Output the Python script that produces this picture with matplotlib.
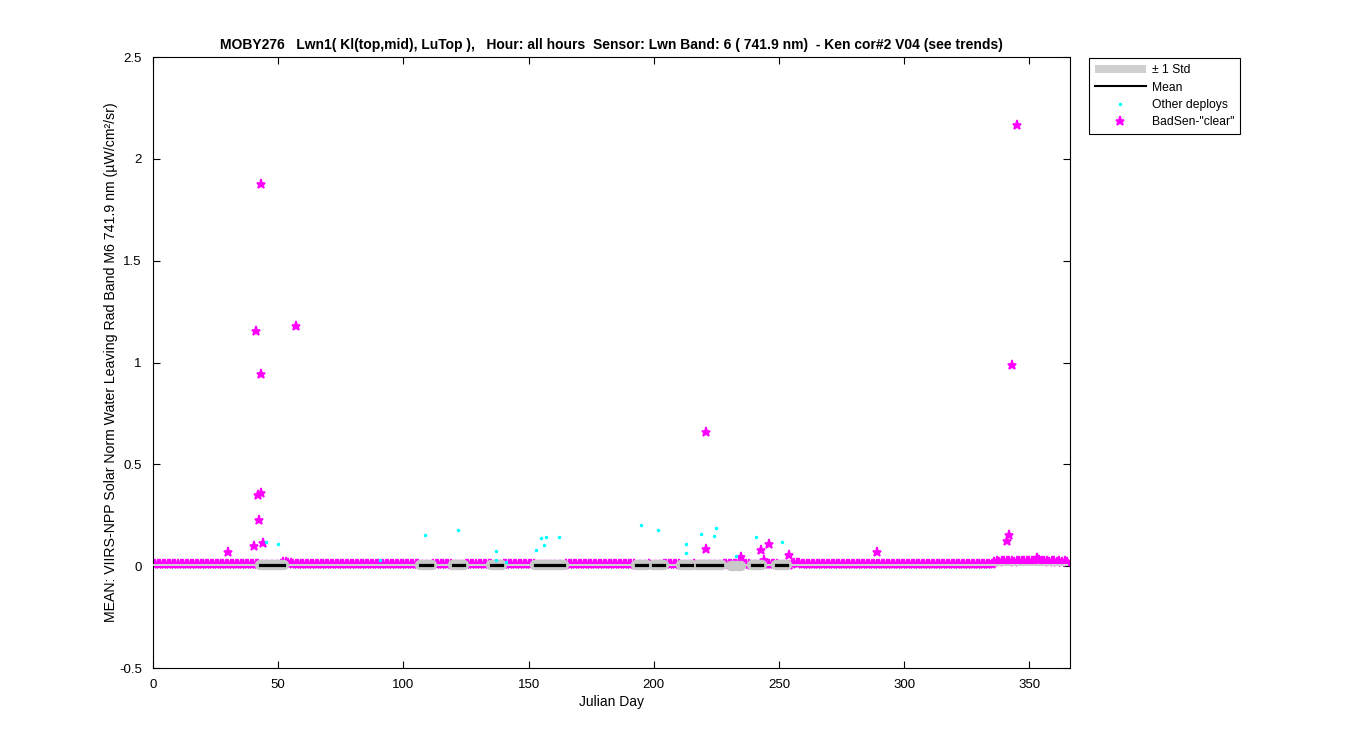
import numpy as np
import matplotlib.pyplot as plt
from matplotlib.patches import Patch
from matplotlib.lines import Line2D
from matplotlib.ticker import FormatStrFormatter

plt.rcParams['font.family'] = ['Liberation Sans', 'DejaVu Sans']

# ---- data ----
# daily baseline of BadSen-"clear" points (units of 1e-3 uW/cm^2/sr)
days = np.arange(1, 366)
baseline_milli = [
    9, 10, 9, 11, 9, 10, 12, 9, 10, 9, 11, 10, 9, 10, 9, 11, 9, 10, 9, 10,
    10, 9, 11, 10, 9, 10, 12, 13, 9, 10, 9, 10, 11, 9, 10, 9, 11, 10, 9, 10,
    10, 9, 8, 8, 8, 8, 8, 8, 8, 8, 9, 22, 20, 18, 16, 12, 11, 10, 9, 11,
    10, 9, 10, 11, 9, 10, 9, 11, 10, 9, 10, 12, 9, 10, 9, 10, 11, 9, 10, 9,
    11, 10, 9, 10, 12, 9, 10, 9, 11, 10, 9, 10, 9, 11, 10, 9, 10, 9, 11, 10,
    9, 10, 12, 9, 10, 9, 8, 8, 8, 8, 8, 9, 10, 9, 11, 10, 9, 10, 9, 8,
    8, 8, 8, 8, 9, 10, 11, 9, 10, 9, 12, 10, 9, 10, 9, 8, 8, 8, 8, 10,
    9, 10, 11, 9, 10, 9, 11, 10, 9, 10, 9, 11, 8, 8, 8, 8, 8, 8, 8, 8,
    8, 8, 8, 8, 9, 10, 11, 9, 10, 9, 11, 10, 9, 10, 9, 11, 10, 9, 10, 9,
    11, 10, 9, 10, 12, 9, 10, 9, 11, 10, 9, 10, 8, 8, 8, 8, 8, 9, 8, 8,
    8, 8, 8, 10, 9, 10, 11, 9, 10, 9, 8, 8, 8, 8, 8, 9, 8, 8, 8, 8,
    8, 8, 8, 8, 8, 8, 8, 9, 10, 9, 11, 10, 9, 10, 9, 11, 10, 9, 8, 8,
    8, 8, 8, 9, 10, 9, 12, 10, 9, 8, 8, 8, 8, 8, 9, 18, 16, 14, 11, 10,
    9, 10, 11, 9, 10, 9, 11, 10, 9, 10, 12, 9, 10, 9, 11, 10, 9, 10, 9, 11,
    10, 9, 10, 12, 9, 10, 9, 11, 10, 9, 10, 9, 11, 10, 9, 10, 9, 11, 10, 9,
    10, 12, 9, 10, 9, 11, 10, 9, 10, 9, 11, 10, 9, 10, 9, 11, 10, 9, 12, 10,
    9, 10, 9, 11, 10, 9, 10, 9, 11, 10, 9, 12, 10, 9, 10, 22, 24, 23, 25, 24,
    25, 26, 24, 23, 25, 27, 26, 25, 24, 26, 25, 24, 36, 30, 26, 25, 24, 23, 24, 25,
    22, 24, 23, 24, 22,
]

# outlying BadSen-"clear" points
bad_day = [30, 40.5, 41, 42, 42.5, 43, 43, 43, 44, 57,
           221, 221, 235, 243, 244, 246, 254, 289, 341, 342, 343, 345, 353]
bad_val = [0.069, 0.098, 1.154, 0.349, 0.226, 0.357, 1.875, 0.943, 0.113, 1.178,
           0.658, 0.083, 0.045, 0.080, 0.030, 0.110, 0.054, 0.069, 0.123, 0.152, 0.990, 2.165, 0.040]

# other deployments
other_day = [45, 50, 90.7, 108.7, 121.8, 137, 137, 141, 153, 155, 156, 157, 162,
             195, 201.7, 213, 213, 219, 224, 225, 233, 241, 251]
other_val = [0.118, 0.108, 0.030, 0.152, 0.180, 0.074, 0.030, 0.020, 0.079, 0.137, 0.103, 0.142, 0.142,
             0.200, 0.180, 0.108, 0.064, 0.157, 0.147, 0.187, 0.049, 0.142, 0.118]

# mean +/- std for each deployment window
seg_start = [42.7, 106.6, 119.8, 135.0, 152.6, 193.0, 199.7, 210.9, 217.3, 231.0, 239.2, 248.8]
seg_end = [52.3, 111.4, 124.2, 139.4, 164.0, 197.3, 204.0, 215.3, 227.2, 235.0, 243.2, 253.2]
seg_mean = [0.005, 0.005, 0.005, 0.004, 0.006, 0.005, 0.005, 0.005, 0.006, 0.003, 0.005, 0.005]
seg_show_mean = [True, True, True, True, True, True, True, True, True, False, True, True]

# year-wide climatology band
year_mean = 0.004
year_std = 0.005

# ---- figure ----
fig = plt.figure(figsize=(13.5, 7.5), dpi=100)
ax = fig.add_axes([0.1133, 0.1093, 0.6793, 0.8147])

baseline = np.array(baseline_milli) * 1e-3
ax.plot(days, baseline, linestyle='none', marker='*', markersize=6.5,
        color='magenta', markeredgecolor='magenta', markeredgewidth=1.2, zorder=2)
ax.plot(bad_day, bad_val, linestyle='none', marker='*', markersize=6.5,
        color='magenta', markeredgecolor='magenta', markeredgewidth=1.2, zorder=2)

ax.fill_between([0, 365.5], year_mean - year_std, year_mean + year_std,
                color='#cfcfcf', linewidth=0, zorder=3)
for s, e, m in zip(seg_start, seg_end, seg_mean):
    ax.plot([s, e], [m, m], color='#c8c8c8', linewidth=7.5, solid_capstyle='round', zorder=3)
for s, e, m, show in zip(seg_start, seg_end, seg_mean, seg_show_mean):
    if show:
        ax.plot([s, e], [m, m], color='black', linewidth=2.3, zorder=4)

ax.plot(other_day, other_val, linestyle='none', marker='.', markersize=3,
        color='cyan', zorder=5)

ax.set_xlim(0, 366.2)
ax.set_ylim(-0.5, 2.5)
ax.set_xticks(np.arange(0, 351, 50))
ax.set_yticks(np.arange(-0.5, 2.51, 0.5))
ax.yaxis.set_major_formatter(FormatStrFormatter('%g'))
ax.tick_params(direction='in', top=True, right=True, labelsize=9.5, length=5, width=0.8)
ax.tick_params(axis='x', pad=8)
ax.tick_params(axis='y', pad=8)
for sp in ax.spines.values():
    sp.set_linewidth(0.8)

ax.set_xlabel('Julian Day', fontsize=10, labelpad=3)
ax.set_ylabel('MEAN: VIIRS-NPP Solar Norm Water Leaving Rad Band M6 741.9 nm (µW/cm²/sr)',
              fontsize=10.2, labelpad=1)
ax.set_title('MOBY276   Lwn1( Kl(top,mid), LuTop ),   Hour: all hours  Sensor: Lwn Band: 6 ( 741.9 nm)  - Ken cor#2 V04 (see trends)',
             fontsize=10, fontweight='bold', pad=6)

handles = [
    Patch(facecolor='#cfcfcf', edgecolor='none'),
    Line2D([], [], color='black', linewidth=1.5),
    Line2D([], [], linestyle='none', marker='.', markersize=3, color='cyan'),
    Line2D([], [], linestyle='none', marker='*', markersize=6.5, color='magenta', markeredgewidth=1.2),
]
labels = ['± 1 Std', 'Mean', 'Other deploys', 'BadSen-"clear"']
leg = fig.legend(handles, labels, loc='upper left', bbox_to_anchor=(1083 / 1350, 1 - 52 / 750),
                 fontsize=8.7, frameon=True, fancybox=False, edgecolor='black',
                 framealpha=1, handlelength=4.2, handletextpad=0.5, borderpad=0.5,
                 labelspacing=0.45)
leg.get_frame().set_linewidth(0.8)

fig.savefig('out.png', dpi=100)
